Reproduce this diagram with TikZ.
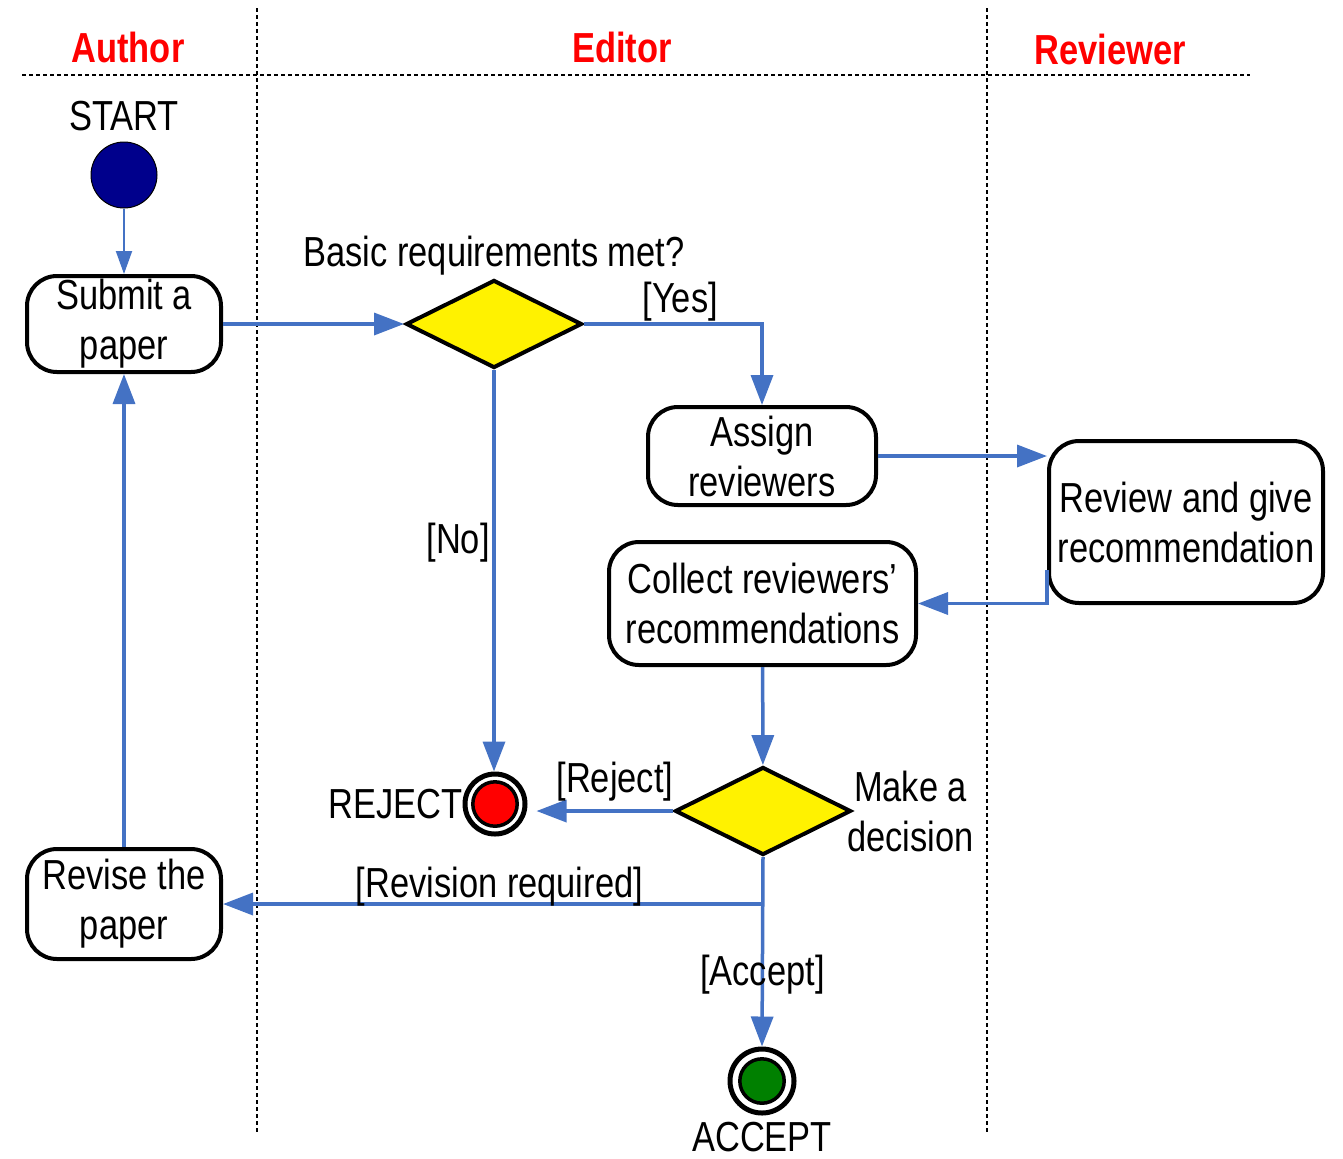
\documentclass[tikz,border=0pt]{standalone}
\usepackage{fontspec}
\setmainfont{Liberation Sans}[FakeStretch=0.82]
\usepackage{tikz}
\usetikzlibrary{arrows.meta,positioning,shapes.geometric}
\definecolor{flowblue}{RGB}{68,114,196}
\definecolor{startblue}{RGB}{0,0,140}
\definecolor{acceptgreen}{RGB}{0,128,0}

\begin{document}
\begin{tikzpicture}[
    x=0.5pt, y=-0.5pt,
    font=\fontsize{21}{25}\selectfont,
    lane/.style={line width=1pt,dash pattern=on 2pt off 1.5pt},
    lanehead/.style={text=red,font=\fontsize{21}{25}\selectfont\bfseries},
    activity/.style={draw,line width=2pt,rounded corners=15pt,align=center,inner sep=0pt},
    decision/.style={diamond,draw,line width=2pt,fill=yellow,inner sep=0pt,minimum width=88pt,minimum height=44pt},
    endstate/.style={circle,draw,line width=2.5pt,minimum size=30pt,inner sep=0pt,
      path picture={\draw[line width=1.75pt,fill=#1] (path picture bounding box.center) circle (11.1pt);}},
    flow/.style={draw=flowblue,line width=1.75pt,-{Triangle[width=11pt,length=15pt]}},
    thinflow/.style={draw=flowblue,line width=1pt,-{Triangle[width=8pt,length=11.5pt]}},
    ]
    \useasboundingbox (0,0) rectangle (1343,1158);
    \node[lanehead] (authorhead) at (128,47) {Author};
    \node[lanehead] (editorhead) at (622,47) {Editor};
    \node[lanehead] (reviewerhead) at (1110,49) {Reviewer};
    \draw[lane] (22,75) -- (1250,75);
    \draw[lane] (257,8) -- (257,1133);
    \draw[lane] (987,8) -- (987,1133);
    \node[circle,draw,fill=startblue,line width=0.5pt,minimum size=33pt,inner sep=0pt] (start) at (124,175) {};
    \node[above=5pt of start,inner sep=0pt] (startlabel) {START};
    \node[activity,minimum width=97pt,minimum height=48pt] (submit) at (124,324) {Submit a\\paper};
    \node[activity,minimum width=97pt,minimum height=55pt] (revise) at (124,904) {Revise the\\paper};
    \node[decision] (basic) at (494,324) {};
    \node[above=1pt of basic,inner sep=0pt] (basiclabel) {Basic requirements met?};
    \node[activity,minimum width=114pt,minimum height=49pt] (assign) at (762,456) {Assign\\reviewers};
    \node[activity,minimum width=137pt,minimum height=81pt] (review) at (1186,522) {Review and give\\recommendation};
    \node[activity,minimum width=153.5pt,minimum height=61.5pt] (collect) at (762.5,603.5) {Collect reviewers’\\recommendations};
    \node[decision] (decide) at (763,811) {};
    \node[right=-3pt of decide,inner sep=0pt,align=center] (decidelabel) {Make a\\decision};
    \node[endstate=red] (reject) at (495,804) {};
    \node[left=0pt of reject,inner sep=0pt] (rejectlabel) {REJECT};
    \node[endstate=acceptgreen,minimum size=32pt] (accept) at (762,1081) {};
    \node[below=3pt of accept,inner sep=0pt] (acceptlabel) {ACCEPT};
    \coordinate (fork) at (decide.south |- revise.east);
    \draw[thinflow] (start) -- (submit);
    \draw[flow] (submit) -- (basic);
    \draw[flow] (basic.east) -| (assign.north) node[pos=0.27,above=-3pt] {[Yes]};
    \draw[flow] (basic.south) -- (basic.south |- reject.north) node[pos=0.43,left=-2pt] {[No]};
    \draw[flow] (assign.east) -- (assign.east -| review.west);
    \draw[flow] ([yshift=-24pt]review.west) |- (collect.east);
    \draw[flow] (collect) -- (decide);
    \draw[flow,shorten >=4.5pt] (decide.west) -- (decide.west -| reject.east) node[pos=0.4,above=0.5pt] {[Reject]};
    \draw[flow] (decide.south) -- (accept.north) node[pos=0.62] {[Accept]};
    \draw[flow] (fork) -- (revise.east) node[pos=0.488,above=-2pt,inner sep=0pt] {[Revision required]};
    \draw[flow] (revise) -- (submit);
\end{tikzpicture}
\end{document}
